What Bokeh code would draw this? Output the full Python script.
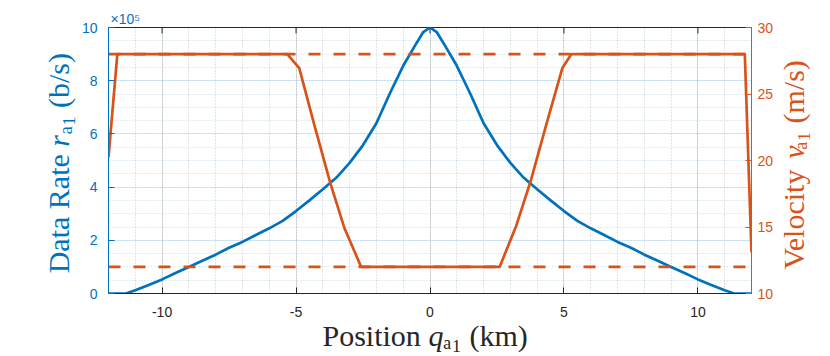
import numpy as np
from bokeh.plotting import figure
from bokeh.models import (Range1d, LinearAxis, SingleIntervalTicker, Label, Grid,
                          PrintfTickFormatter)
from bokeh.embed import file_html
from bokeh.resources import INLINE

# ---------------- data ----------------
position_km = [-12, -11.35, -11, -10.5, -10, -9.5, -9, -8.5, -8, -7.5, -7, -6.5,
               -6, -5.5, -5, -4.5, -4, -3.5, -3, -2.5, -2, -1.5, -1, -0.5, -0.25, 0,
               0.25, 0.5, 1, 1.5, 2, 2.5, 3, 3.5, 4, 4.5, 5, 5.5, 6, 6.5, 7, 7.5,
               8, 8.5, 9, 9.5, 10, 10.5, 11, 11.35, 12]
rate_e5 = [0, 0, 0.12, 0.32, 0.53, 0.77, 1.0, 1.23, 1.46, 1.72, 1.94, 2.2,
           2.45, 2.73, 3.1, 3.5, 3.92, 4.35, 4.91, 5.58, 6.4, 7.52, 8.56, 9.42, 9.83, 10,
           9.83, 9.42, 8.56, 7.52, 6.4, 5.58, 4.91, 4.35, 3.92, 3.5, 3.1, 2.73, 2.45, 2.2, 1.94, 1.72,
           1.46, 1.23, 1.0, 0.77, 0.53, 0.32, 0.12, 0, 0]

vel_position_km = [-12, -11.67, -5.33, -4.88, -4.32, -3.72, -3.2, -2.57,
                   2.6, 3.22, 3.75, 4.34, 4.94, 5.28, 11.75, 12]
velocity_ms = [20.25, 28, 28, 26.95, 22.7, 18.3, 14.95, 12,
               12, 15.1, 18.4, 22.7, 26.95, 28, 28, 13.1]

velocity_limits = [12, 28]

x_ticks = [-10, -5, 0, 5, 10]
x_range = [-12, 12]
rate_range = [0, 10]
vel_range = [10, 30]

# ---------------- style ----------------
BLUE = "#0072BD"
ORANGE = "#D95319"
DARK = "#262626"
SERIF = "Liberation Serif"
SANS = "Liberation Sans"

# frame geometry (canvas pixels)
FL, FT, FW, FH = 108, 27, 643, 266
TICK = 6

def xd(px):
    return x_range[0] + (px - FL) / FW * (x_range[1] - x_range[0])

def yd(py):
    return rate_range[1] - (py - FT) / FH * (rate_range[1] - rate_range[0])

p = figure(frame_width=FW, frame_height=FH,
           min_border_left=FL, min_border_top=FT,
           min_border_right=79, min_border_bottom=63,
           x_range=Range1d(*x_range), y_range=Range1d(*rate_range),
           output_backend="svg", toolbar_location=None,
           x_axis_type=None, y_axis_type=None)
p.outline_line_color = DARK
p.outline_line_width = 1
p.background_fill_color = "white"
p.border_fill_color = "white"

p.extra_y_ranges = {"v": Range1d(*vel_range)}

xt = SingleIntervalTicker(interval=5, num_minor_ticks=5)
yt = SingleIntervalTicker(interval=2, num_minor_ticks=4)
vt = SingleIntervalTicker(interval=5, num_minor_ticks=0)

def style_axis(ax, color, standoff):
    ax.axis_line_color = color
    ax.axis_line_width = 1
    ax.major_tick_line_color = color
    ax.major_tick_in = TICK
    ax.major_tick_out = 0
    ax.minor_tick_line_color = None
    ax.major_label_text_color = color
    ax.major_label_text_font = SANS
    ax.major_label_text_font_size = "14px"
    ax.major_label_standoff = standoff
    ax.axis_label = None
    ax.formatter = PrintfTickFormatter(format="%d")

xb = LinearAxis(ticker=xt)
style_axis(xb, DARK, 9)
p.add_layout(xb, "below")

yl = LinearAxis(ticker=yt)
style_axis(yl, BLUE, 7)
p.add_layout(yl, "left")

yr = LinearAxis(ticker=vt, y_range_name="v")
style_axis(yr, ORANGE, 6)
p.add_layout(yr, "right")

# grids
gx = Grid(dimension=0, ticker=xt)
gx.grid_line_color = DARK
gx.grid_line_alpha = 0.12
gx.minor_grid_line_color = DARK
gx.minor_grid_line_alpha = 0.25
gx.minor_grid_line_dash = "1 2"
p.add_layout(gx)

gy = Grid(dimension=1, ticker=yt)
gy.grid_line_color = BLUE
gy.grid_line_alpha = 0.12
gy.minor_grid_line_color = BLUE
gy.minor_grid_line_alpha = 0.25
gy.minor_grid_line_dash = "1 2"
p.add_layout(gy)

# top box ticks (pointing inward)
tick_len = TICK * (rate_range[1] - rate_range[0]) / FH
p.segment(x0=x_ticks, y0=[rate_range[1]] * len(x_ticks),
          x1=x_ticks, y1=[rate_range[1] - tick_len] * len(x_ticks),
          line_color=DARK, line_width=1)

# series
p.line(position_km, rate_e5, line_color=BLUE, line_width=2.7)
p.line(vel_position_km, velocity_ms, line_color=ORANGE, line_width=2.7, y_range_name="v")
for lim in velocity_limits:
    p.line(x_range, [lim, lim], line_color=ORANGE, line_width=2.7,
           line_dash="12 13", y_range_name="v")

MAIN = "30px"
MID30 = 10   # baseline offset from a "middle" anchor for 30px serif text
MID14 = 5

def lab(px, py, text, size, color, side, style="normal", angle=0.0, font=SERIF):
    p.add_layout(Label(x=xd(px), y=yd(py), text=text, text_font=font,
                       text_font_size=size, text_font_style=style,
                       text_color=color, angle=angle,
                       text_baseline="middle", text_align="left"), side)

R = np.pi / 2

# multiplier label
lab(110, 23 - MID14, "\u00d710\u2075", "14px", BLUE, "right", font=SANS)

# x axis title: Position q_{a1} (km)   (baseline y = 345)
lab(322, 345 - MID30, "Position \u2002\u2090\u2081 (km)", MAIN, DARK, "below")
lab(427.9, 345 - MID30, "q", MAIN, DARK, "right", "italic")

# left title: Data Rate r_{a1} (b/s)   (baseline x = 68.3)
lab(68.3 - MID30, 272.8, "Data Rate \u2005\u2006\u2090\u2081 (b/s)", MAIN, BLUE, "left", angle=R)
lab(68.3 - MID30, 146.2, "r", MAIN, BLUE, "above", "italic", angle=R)

# right title: Velocity v_{a1} (m/s)   (baseline x = 803)
lab(803 - MID30, 269.1, "Velocity \u2005\u2006\u2090\u2081 (m/s)", MAIN, ORANGE, "left", angle=R)
lab(803 - MID30, 158.3, "v", MAIN, ORANGE, "above", "italic", angle=R)

open("out.html", "w").write(file_html(p, INLINE))
